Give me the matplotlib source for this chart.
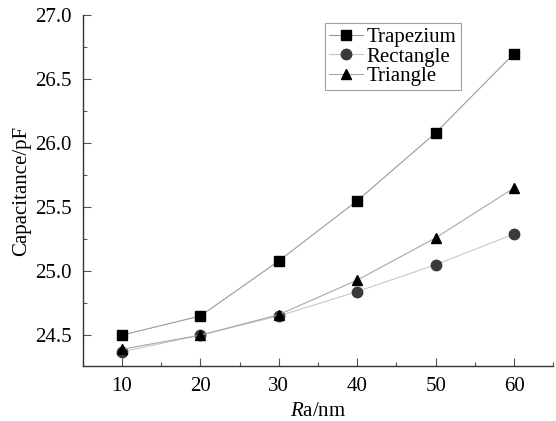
import matplotlib
matplotlib.use('Agg')
import matplotlib.pyplot as plt
from matplotlib.ticker import MultipleLocator

ra = [10, 20, 30, 40, 50, 60]
trapezium = [24.50, 24.65, 25.08, 25.55, 26.08, 26.70]
rectangle = [24.37, 24.50, 24.65, 24.84, 25.05, 25.29]
triangle = [24.39, 24.50, 24.66, 24.93, 25.26, 25.65]

plt.rcParams['font.family'] = ['Liberation Serif', 'DejaVu Serif']
plt.rcParams['mathtext.fontset'] = 'custom'
plt.rcParams['mathtext.it'] = 'Liberation Serif:italic'
plt.rcParams['mathtext.rm'] = 'Liberation Serif'

fig = plt.figure(figsize=(5.56, 4.21), dpi=100)
ax = fig.add_axes([0.149, 0.131, 0.846, 0.833])

ax.plot(ra, trapezium, color='#9a9a9a', lw=0.8, marker='s', ms=7,
        mfc='black', mec='black', label='Trapezium')
ax.plot(ra, rectangle, color='#c8c8c8', lw=0.8, marker='o', ms=7.5,
        mfc='#3a3a3a', mec='#3a3a3a', label='Rectangle')
ax.plot(ra, triangle, color='#a8a8a8', lw=0.8, marker='^', ms=7.5,
        mfc='black', mec='black', label='Triangle')

ax.set_xlim(5, 65)
ax.set_ylim(24.26, 27.0)
ax.xaxis.set_major_locator(MultipleLocator(10))
ax.xaxis.set_minor_locator(MultipleLocator(5))
ax.yaxis.set_major_locator(MultipleLocator(0.5))
ax.yaxis.set_minor_locator(MultipleLocator(0.25))
ax.yaxis.set_major_formatter(plt.FormatStrFormatter('%.1f'))

for side in ['top', 'right']:
    ax.spines[side].set_visible(False)
for side in ['left', 'bottom']:
    ax.spines[side].set_color('#333333')
    ax.spines[side].set_linewidth(1.0)

ax.tick_params(which='major', direction='in', length=6, width=0.8,
               color='#555555', labelsize=15, pad=8)
ax.tick_params(which='minor', direction='in', length=3, width=0.8,
               color='#555555')

ax.set_xlabel('$\\mathit{R}$a/nm', fontsize=15, labelpad=4)
ax.set_ylabel('Capacitance/pF', fontsize=15, labelpad=3)

leg = ax.legend(loc='upper left', bbox_to_anchor=(0.515, 0.977), fontsize=15,
                frameon=True, fancybox=False, handlelength=1.6,
                handletextpad=0.2, borderpad=0.2, labelspacing=0.0,
                borderaxespad=0)
leg.get_frame().set_edgecolor('#888888')
leg.get_frame().set_linewidth(0.8)

fig.savefig('out.png', dpi=100)
